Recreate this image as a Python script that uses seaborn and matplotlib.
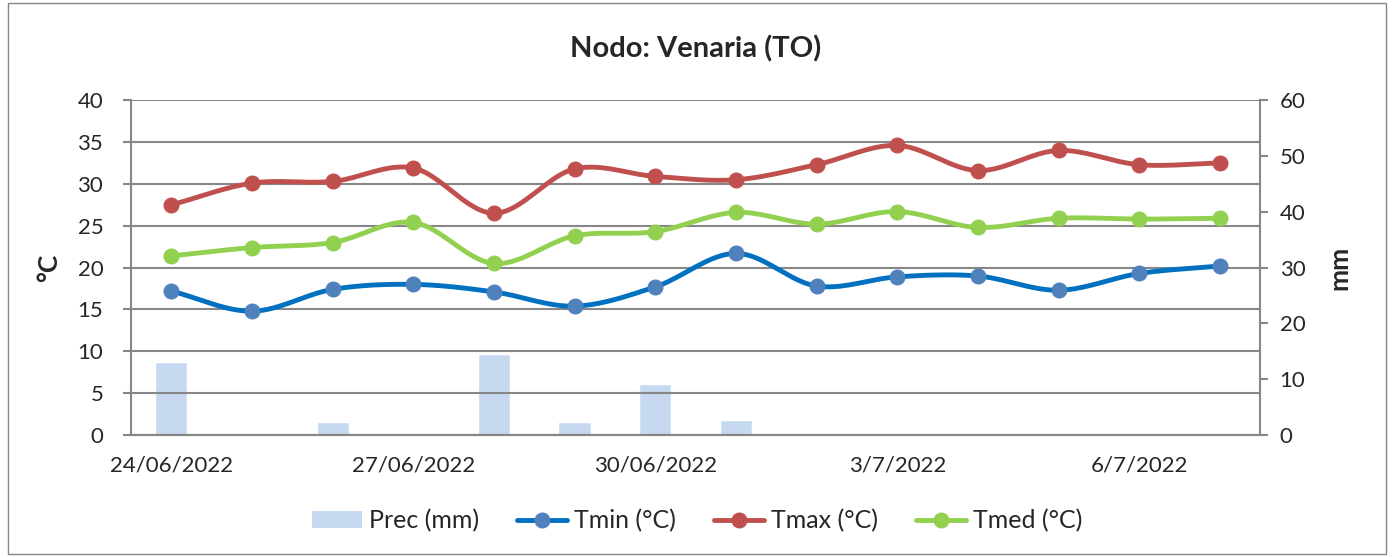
import numpy as np
import pandas as pd
import matplotlib
import matplotlib.pyplot as plt
import seaborn as sns
from matplotlib.lines import Line2D
from matplotlib.patches import Patch, Rectangle

matplotlib.use("Agg")

# --- data ---
dates = ["24/06/2022", "25/06/2022", "26/06/2022", "27/06/2022", "28/06/2022",
         "29/06/2022", "30/06/2022", "1/7/2022", "2/7/2022", "3/7/2022",
         "4/7/2022", "5/7/2022", "6/7/2022", "7/7/2022"]
prec = [13.0, 0.0, 2.3, 0.0, 14.5, 2.3, 9.1, 2.7, 0.3, 0.0, 0.0, 0.0, 0.0, 0.0]
tmin = [17.2, 14.8, 17.4, 18.0, 17.1, 15.4, 17.7, 21.7, 17.8, 18.9, 19.0, 17.3, 19.3, 20.2]
tmax = [27.5, 30.1, 30.3, 31.9, 26.5, 31.8, 30.9, 30.5, 32.3, 34.6, 31.6, 34.0, 32.3, 32.5]
tmed = [21.4, 22.4, 23.0, 25.4, 20.5, 23.8, 24.3, 26.6, 25.2, 26.7, 24.8, 25.9, 25.8, 25.9]

series = [("Tmin (°C)", tmin, "#0070C0", "#4F81BD"),
          ("Tmax (°C)", tmax, "#C0504D", "#C0504D"),
          ("Tmed (°C)", tmed, "#92D050", "#92D050")]

GRID = "#878787"
BAR = "#C6D9F1"


def smooth(y, n=20):
    # Catmull-Rom curve through the points, similar to Excel's smoothed line
    y = np.asarray(y, dtype=float)
    x = np.arange(len(y), dtype=float)
    px = np.concatenate([[2 * x[0] - x[1]], x, [2 * x[-1] - x[-2]]])
    py = np.concatenate([[2 * y[0] - y[1]], y, [2 * y[-1] - y[-2]]])
    xs, ys = [], []
    t = np.linspace(0, 1, n, endpoint=False)
    for i in range(1, len(px) - 2):
        for p, out in ((px, xs), (py, ys)):
            p0, p1, p2, p3 = p[i - 1], p[i], p[i + 1], p[i + 2]
            out.extend(0.5 * ((2 * p1) + (-p0 + p2) * t
                              + (2 * p0 - 5 * p1 + 4 * p2 - p3) * t ** 2
                              + (-p0 + 3 * p1 - 3 * p2 + p3) * t ** 3))
    xs.append(x[-1])
    ys.append(y[-1])
    return np.array(xs), np.array(ys)


sns.set_style("white")
plt.rcParams["font.family"] = ["Lato", "DejaVu Sans"]

fig = plt.figure(figsize=(13.94, 5.57), dpi=100)
ax = fig.add_axes([0.094, 0.219, 0.810, 0.601])
ax2 = ax.twinx()

x = np.arange(len(dates))

# precipitation bars on the secondary axis
ax2.bar(x, prec, width=0.4, color=BAR, zorder=1)
ax2.set_ylim(0, 60)
ax2.set_yticks(range(0, 61, 10))

# temperature lines on the primary axis, drawn above the bars
ax.set_zorder(ax2.get_zorder() + 1)
ax.patch.set_visible(False)
for name, vals, lc, mc in series:
    sx, sy = smooth(vals)
    df = pd.DataFrame({"x": sx, "y": sy})
    sns.lineplot(data=df, x="x", y="y", sort=False, estimator=None,
                 color=lc, linewidth=3.5, ax=ax, zorder=3)
    ax.plot(x, vals, linestyle="none", marker="o", markersize=10.5,
            markerfacecolor=mc, markeredgecolor=mc, zorder=4)

ax.set_xlim(-0.5, len(dates) - 0.5)
ax.set_ylim(0, 40)
ax.set_yticks(range(0, 41, 5))
ax.yaxis.grid(True, color=GRID, linewidth=1.5)
ax.set_axisbelow(True)

ax.set_xticks(x[::3])
ax.set_xticklabels(dates[::3])
ax.set_xticks(np.arange(-0.5, len(dates), 1), minor=True)
ax.tick_params(axis="x", which="major", length=0, pad=15, labelsize=16)
ax.tick_params(axis="x", which="minor", length=6, width=1.5, color=GRID,
               direction="out")
ax.tick_params(axis="y", length=6, width=1.5, color=GRID, labelsize=16, pad=14)
ax2.tick_params(axis="y", length=6, width=1.5, color=GRID, labelsize=16, pad=8)

for a in (ax, ax2):
    a.spines["top"].set_visible(False)
    for s in ("left", "right", "bottom"):
        a.spines[s].set_color(GRID)
        a.spines[s].set_linewidth(1.5)
ax2.spines["left"].set_visible(False)
ax.spines["right"].set_visible(False)

ax.set_xlabel("")
ax.set_ylabel("°C", fontsize=19, fontweight="bold", labelpad=12)
ax2.set_ylabel("mm", fontsize=19, fontweight="bold", labelpad=16)

fig.text(0.499, 0.913, "Nodo: Venaria (TO)", ha="center", va="center",
         fontsize=21, fontweight="bold")

handles = [Patch(facecolor=BAR, edgecolor="none", label="Prec (mm)")]
for name, vals, lc, mc in series:
    handles.append(Line2D([0], [0], color=lc, linewidth=3.5, marker="o",
                          markersize=10.5, markerfacecolor=mc,
                          markeredgecolor=mc, label=name))
fig.legend(handles=handles, loc="center", bbox_to_anchor=(0.5, 0.065),
           ncol=4, frameon=False, fontsize=18, handlelength=2.0,
           handletextpad=0.3, columnspacing=1.5)

fig.add_artist(Rectangle((0.006, 0.006), 0.988, 0.988, transform=fig.transFigure,
                         fill=False, edgecolor=GRID, linewidth=1))

fig.savefig("out.png", dpi=100)
